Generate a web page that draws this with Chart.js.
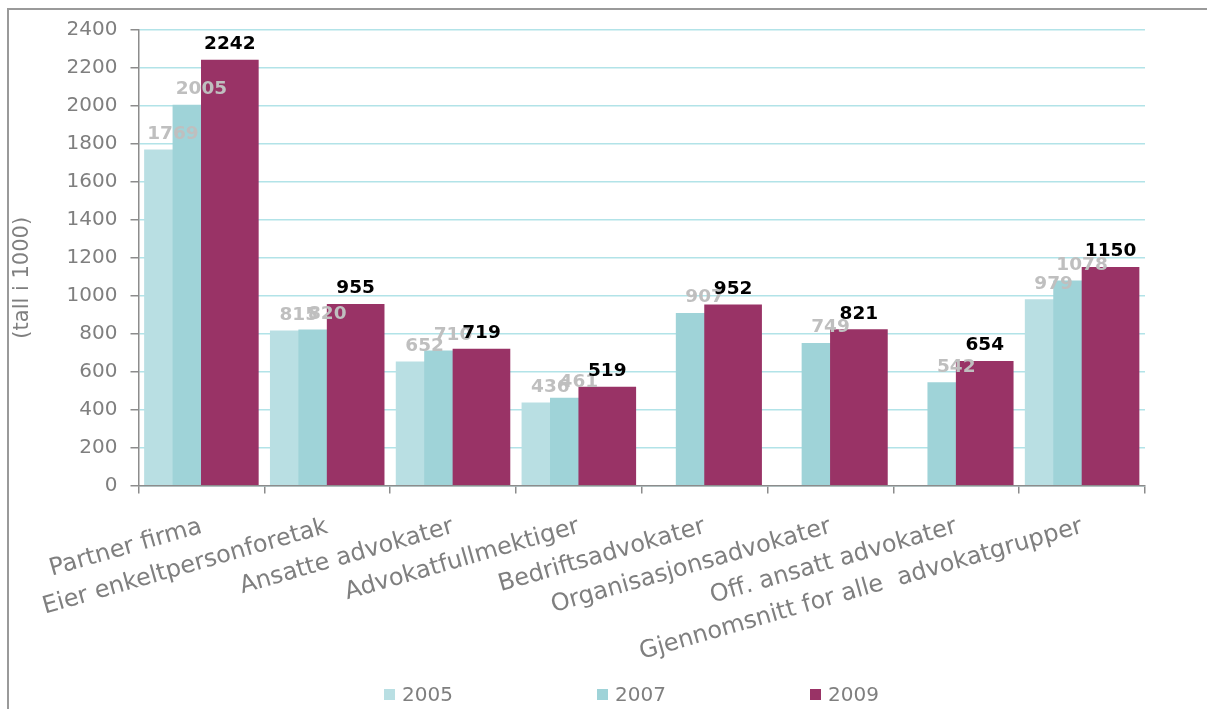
<!DOCTYPE html>
<html>
<head>
<meta charset="utf-8">
<title>Advokater</title>
<script src="https://cdn.jsdelivr.net/npm/chart.js@4.4.1/dist/chart.umd.min.js"></script>
<style>
    html, body { margin: 0; padding: 0; background: #ffffff; }
    #wrap { width: 1207px; height: 709px; }
</style>
</head>
<body>
<div id="wrap"><canvas id="canvas" width="1207" height="709"></canvas></div>
<script>
// categories and values
const categories = [
    'Partner firma',
    'Eier enkeltpersonforetak',
    'Ansatte advokater',
    'Advokatfullmektiger',
    'Bedriftsadvokater',
    'Organisasjonsadvokater',
    'Off. ansatt advokater',
    'Gjennomsnitt for alle  advokatgrupper'
];
const years = ['2005', '2007', '2009'];
const values2005 = [1769, 815, 652, 436, null, null, null, 979];
const values2007 = [2005, 820, 710, 461, 907, 749, 542, 1078];
const values2009 = [2242, 955, 719, 519, 952, 821, 654, 1150];
const yMin = 0;
const yMax = 2400;
const yStep = 200;

const barColors = ['#b9dfe3', '#9fd3d8', '#993366'];
const labelColors = ['#bfbfbf', '#bfbfbf', '#000000'];
const barOffsets = [-0.226, 0, 0.226]; // bars overlap like in Excel
const textGray = '#7f7f7f';
const axisGray = '#8c8c8c';

Chart.defaults.font.family = '"DejaVu Sans", Verdana, sans-serif';
Chart.defaults.color = textGray;

// put each value at its category index, shifted a bit for the overlap
function toPoints(values, offset) {
    return values.map((v, i) => ({ x: i + offset, y: v }));
}

// gray frame round the chart (only top and left show in the crop)
const frame = {
    id: 'frame',
    beforeDraw(chart) {
        const ctx = chart.ctx;
        ctx.save();
        ctx.strokeStyle = '#9a9a9a';
        ctx.lineWidth = 2;
        ctx.beginPath();
        ctx.moveTo(8, chart.height);
        ctx.lineTo(8, 9);
        ctx.lineTo(chart.width, 9);
        ctx.stroke();
        ctx.restore();
    }
};

// value above every bar
const valueLabels = {
    id: 'valueLabels',
    afterDatasetsDraw(chart) {
        const ctx = chart.ctx;
        ctx.save();
        ctx.font = 'bold 18.5px "DejaVu Sans", Verdana, sans-serif';
        ctx.textAlign = 'center';
        ctx.textBaseline = 'alphabetic';
        chart.data.datasets.forEach((ds, i) => {
            const meta = chart.getDatasetMeta(i);
            ctx.fillStyle = labelColors[i];
            meta.data.forEach((bar, j) => {
                const v = ds.data[j].y;
                if (v === null) return;
                ctx.fillText(String(v), bar.x, bar.y - 11);
            });
        });
        ctx.restore();
    }
};

// legend spread out along the bottom
const legendRow = {
    id: 'legendRow',
    afterDraw(chart) {
        const ctx = chart.ctx;
        ctx.save();
        ctx.font = '20px "DejaVu Sans", Verdana, sans-serif';
        ctx.textBaseline = 'alphabetic';
        chart.data.datasets.forEach((ds, i) => {
            const x = 384 + i * 213;
            ctx.fillStyle = ds.backgroundColor;
            ctx.fillRect(x, 689, 11, 11);
            ctx.fillStyle = textGray;
            ctx.fillText(ds.label, x + 18, 701);
        });
        ctx.restore();
    }
};

const ctx = document.getElementById('canvas').getContext('2d');
new Chart(ctx, {
    type: 'bar',
    data: {
        labels: categories,
        datasets: [
            { label: years[0], data: toPoints(values2005, barOffsets[0]), backgroundColor: barColors[0], order: 3 },
            { label: years[1], data: toPoints(values2007, barOffsets[1]), backgroundColor: barColors[1], order: 2 },
            { label: years[2], data: toPoints(values2009, barOffsets[2]), backgroundColor: barColors[2], order: 1 }
        ]
    },
    options: {
        responsive: false,
        animation: false,
        datasets: {
            bar: { grouped: false, barThickness: 57 }
        },
        layout: {
            padding: { top: 30, right: 62, left: 0, bottom: 0 }
        },
        plugins: {
            legend: { display: false },
            tooltip: { enabled: false }
        },
        scales: {
            x: {
                type: 'linear',
                display: false,
                offset: false,
                min: -0.5,
                max: 7.5
            },
            xc: {
                type: 'category',
                position: 'bottom',
                offset: true,
                grid: {
                    offset: true,
                    drawOnChartArea: false,
                    color: axisGray,
                    tickLength: 8,
                    lineWidth: 1.5
                },
                border: { color: axisGray, width: 1.5 },
                ticks: {
                    color: textGray,
                    font: { size: 24 },
                    minRotation: 16,
                    maxRotation: 16,
                    autoSkip: false,
                    padding: 19
                },
                afterFit(scale) { scale.height = 709 - 485.5; }
            },
            y: {
                min: yMin,
                max: yMax,
                ticks: {
                    stepSize: yStep,
                    color: textGray,
                    font: { size: 20 },
                    padding: 13,
                    callback: (v) => String(v)
                },
                grid: {
                    color: '#b2e3e8',
                    tickColor: axisGray,
                    tickLength: 8,
                    lineWidth: 1.5
                },
                border: { color: axisGray, width: 1.5 },
                title: {
                    display: true,
                    text: '(tall i 1000)      ',
                    color: textGray,
                    font: { size: 21 },
                    padding: { top: 10, bottom: 0 }
                },
                afterFit(scale) { scale.width = 138.5; }
            }
        }
    },
    plugins: [frame, valueLabels, legendRow]
});
</script>
</body>
</html>
